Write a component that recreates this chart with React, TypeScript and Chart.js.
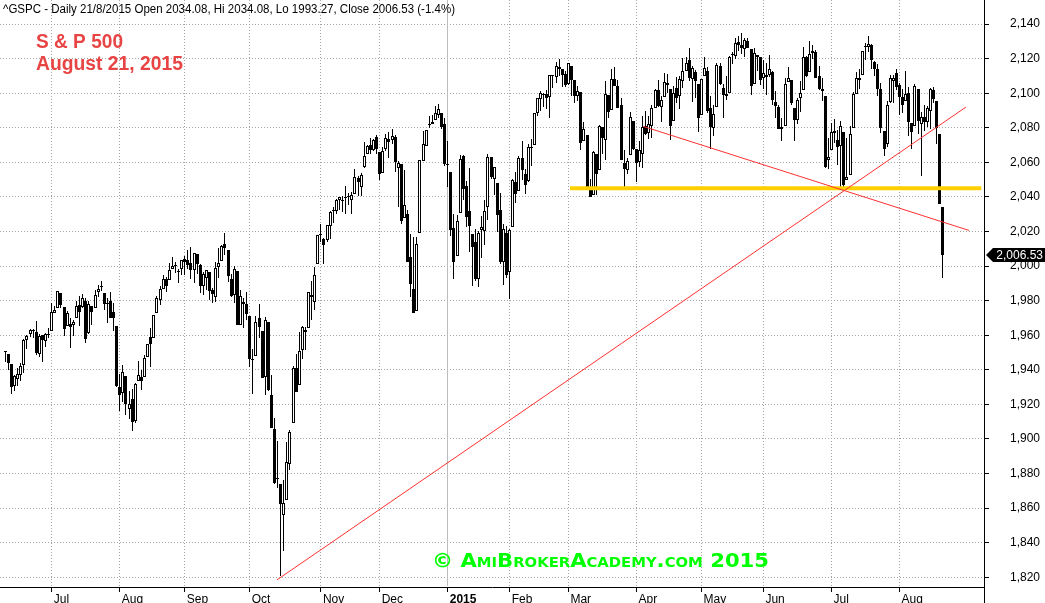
import React, { useEffect, useRef } from 'react';
import { Chart, registerables } from 'chart.js';

Chart.register(...registerables);

// Daily S&P 500 bars, 10 Jun 2014 – 21 Aug 2015 (index = trading day)
const openP = [
  1950.3,1949.4,1943.4,1930.8,1934.8,1937.2,1942.7,1957.5,1960.5,1962.9,1961.9,1949.3,1959.9,1956.6,1960.8,
  1962.3,1973.1,1975.9,1984.2,1976.4,1965.1,1966.7,1965.8,1969.9,1977.4,1976.4,1979.8,1961.5,1976.9,1975.7,1985.3,1988.1,1984.6,1978.3,1980.0,1973.2,1965.1,
  1929.8,1926.6,1936.3,1917.3,1923.0,1910.4,1933.4,1935.7,1935.6,1947.4,1958.9,1958.4,1972.7,1980.5,1986.8,1992.6,1991.7,1998.6,2000.5,1997.4,1998.5,
  2004.1,2003.6,2001.7,1998.0,2007.2,2000.7,1988.4,1992.9,1996.7,1986.0,1981.9,1999.3,2003.1,2012.7,2009.1,1992.8,1983.3,1997.3,1966.2,1979.0,1978.2,
  1971.4,1945.8,1948.1,1970.0,1962.4,1935.6,1967.7,1925.6,1905.7,1877.1,1874.2,1855.9,1864.9,1885.6,1909.4,1941.3,1931.0,1951.6,1963.0,1964.1,1983.3,1979.5,2001.2,
  2018.2,2015.8,2015.3,2023.3,2032.0,2032.0,2038.2,2037.8,2039.2,2039.7,2038.3,2041.5,2051.2,2045.9,2057.5,2065.1,2070.1,2067.4,2074.8,
  2065.8,2053.8,2067.5,2073.6,2072.8,2074.8,2056.6,2058.9,2027.9,2030.4,2005.0,1986.7,1973.8,2019.0,2061.0,2069.3,2081.5,2083.3,2084.3,2087.6,2088.5,2082.1,
  2058.9,2054.4,2022.2,2005.6,2030.6,2063.5,2046.1,2031.6,2018.4,2013.8,1992.3,2020.8,2020.2,2034.3,2063.0,2050.4,2047.9,2032.3,2002.5,2019.4,
  1996.7,2022.7,2048.9,2043.5,2062.3,2053.5,2049.4,2068.6,2070.0,2088.8,2096.5,2099.2,2099.3,2097.7,2109.8,2109.1,2115.3,2113.9,2110.9,
  2105.2,2115.8,2107.7,2098.5,2100.9,2072.3,2076.1,2044.7,2041.1,2064.6,2055.4,2080.6,2072.8,2098.7,2090.3,2108.0,2103.9,2093.1,2059.9,2055.8,2064.1,2084.1,
  2067.6,2060.0,2064.9,2080.8,2076.9,2081.3,2091.5,2102.0,2092.3,2097.8,2106.0,2102.6,2084.1,2102.8,2098.3,2107.2,2112.8,2119.3,2108.4,2112.5,2105.5,
  2087.4,2110.2,2112.6,2091.3,2080.0,2092.1,2115.6,2102.9,2099.6,2100.4,2122.1,2121.3,2129.5,2127.8,2125.6,2130.4,2125.3,2105.1,2122.3,2120.7,
  2108.6,2110.4,2110.6,2112.4,2095.1,2092.3,2079.1,2081.1,2106.2,2107.4,2091.3,2084.3,2097.4,2101.6,2121.1,2112.5,2123.2,2123.7,2110.0,2102.6,2098.6,2061.2,
  2067.0,2078.0,2073.0,2069.5,2077.7,2049.7,2052.7,2080.0,2099.7,2109.0,2110.6,2126.8,2126.9,2127.6,2118.2,2114.2,2102.2,2078.2,2070.8,2094.7,2106.8,2111.6,
  2104.5,2097.7,2095.3,2100.1,2082.6,2081.0,2102.7,2082.0,2086.2,2083.2,2089.7,2102.0,2095.7,2076.6,2034.08,
];
const highP = [
  1950.9,1949.4,1943.4,1937.3,1941.2,1943.7,1957.7,1959.9,1963.9,1963.7,1968.2,1960.8,1959.9,1961.5,1964.2,
  1978.6,1976.7,1985.6,1984.2,1976.4,1974.2,1969.8,1968.7,1979.9,1982.5,1983.9,1981.8,1979.9,1976.9,1986.2,1989.2,1991.4,1984.6,1981.5,1984.9,1978.9,1965.1,
  1937.4,1942.9,1936.3,1927.9,1928.9,1932.4,1944.9,1939.7,1948.4,1955.2,1964.0,1972.0,1982.6,1988.6,1994.8,1993.5,2001.9,2005.0,2002.1,1998.6,2003.4,
  2006.1,2009.3,2011.2,2007.7,2007.2,2001.0,1996.7,1997.7,1996.7,1987.2,2002.3,2010.7,2012.3,2019.3,2009.1,1995.4,1999.8,1997.3,1986.4,1981.3,1985.2,
  1971.4,1952.3,1971.2,1977.8,1962.4,1970.4,1967.7,1936.9,1912.1,1898.7,1874.2,1876.0,1898.2,1905.0,1942.5,1949.3,1962.0,1965.3,1964.6,1985.1,1991.4,1999.4,2018.2,
  2024.5,2016.0,2023.8,2031.6,2034.3,2038.7,2039.7,2040.3,2046.2,2042.2,2043.1,2056.1,2052.1,2053.8,2071.5,2070.2,2074.2,2073.3,2075.8,
  2065.8,2068.8,2076.3,2077.3,2079.5,2075.8,2060.6,2058.9,2055.5,2032.3,2018.7,2016.9,2016.8,2061.2,2077.9,2078.8,2086.7,2087.6,2092.7,2093.6,2088.5,2085.7,
  2072.4,2054.4,2030.3,2029.6,2064.1,2064.4,2049.3,2056.9,2018.4,2021.4,2020.5,2028.9,2038.3,2064.6,2063.0,2057.6,2047.9,2042.5,2024.6,2023.3,
  2021.7,2050.3,2054.7,2063.6,2072.4,2056.2,2070.9,2073.5,2088.5,2097.0,2101.3,2100.2,2102.1,2110.6,2110.1,2117.9,2119.6,2113.9,2112.7,
  2117.5,2115.8,2107.7,2104.3,2100.9,2083.5,2076.1,2050.1,2066.4,2064.6,2081.4,2080.6,2106.9,2098.7,2113.9,2114.9,2107.6,2097.4,2067.2,2062.8,2089.0,2084.1,
  2067.6,2072.2,2087.0,2089.8,2086.7,2093.3,2102.6,2107.7,2098.6,2111.9,2111.3,2102.6,2103.9,2109.6,2110.0,2120.5,2120.9,2125.9,2116.0,2113.7,2105.5,
  2108.4,2121.0,2115.2,2098.4,2092.9,2117.7,2117.7,2105.1,2110.2,2121.5,2123.9,2131.8,2133.0,2134.7,2131.8,2132.2,2125.3,2126.2,2122.3,2120.7,
  2119.2,2117.6,2121.9,2112.9,2101.0,2093.0,2085.6,2108.5,2115.0,2107.4,2091.3,2097.4,2106.8,2126.7,2121.6,2129.9,2128.0,2125.1,2116.0,2108.9,2098.6,2074.3,
  2082.8,2085.1,2078.6,2083.7,2077.7,2074.3,2081.3,2100.7,2112.0,2114.1,2124.4,2128.9,2132.8,2128.4,2118.5,2116.9,2106.0,2078.2,2095.6,2110.6,2110.5,2114.2,
  2105.7,2102.5,2112.7,2103.3,2082.6,2105.4,2102.7,2089.1,2092.9,2092.5,2102.9,2103.5,2095.7,2076.6,2034.08,
];
const lowP = [
  1944.6,1940.1,1925.8,1927.7,1930.9,1933.6,1937.9,1952.3,1959.2,1958.2,1948.3,1947.5,1944.7,1953.0,1958.2,
  1962.3,1972.6,1975.9,1975.7,1959.5,1965.1,1952.9,1959.6,1969.9,1965.3,1975.7,1955.6,1960.8,1965.8,1975.7,1982.4,1985.8,1974.4,1967.3,1969.9,1962.4,1930.0,
  1916.4,1921.2,1913.8,1911.5,1904.8,1909.0,1933.4,1928.3,1935.6,1947.4,1941.5,1958.4,1972.7,1977.7,1986.8,1984.8,1991.7,1998.6,1996.2,1990.5,1994.7,
  1994.9,1998.1,1992.5,1990.1,1995.6,1984.6,1983.0,1985.9,1980.3,1978.5,1979.1,1993.3,2003.1,2006.6,1991.0,1982.4,1978.6,1965.8,1966.2,1964.0,1969.0,
  1941.7,1926.0,1948.1,1958.4,1935.1,1925.3,1927.6,1906.1,1874.1,1871.8,1820.7,1835.0,1864.9,1882.3,1909.4,1927.0,1931.0,1946.3,1951.4,1964.1,1969.0,1974.8,2001.2,
  2013.7,2001.0,2014.0,2015.9,2025.1,2030.2,2032.3,2031.3,2030.4,2035.2,2030.2,2041.5,2040.4,2040.5,2056.8,2065.1,2064.8,2066.4,2065.1,
  2049.6,2053.8,2066.6,2062.3,2070.8,2054.3,2034.2,2024.3,2027.9,2002.3,1982.3,1972.6,1973.8,2019.0,2061.0,2069.3,2079.8,2081.9,2084.3,2085.8,2079.5,2057.9,
  2046.0,2017.3,1992.4,2005.6,2030.6,2038.3,2022.6,2008.3,1988.4,1991.5,1988.1,2004.5,2012.0,2026.4,2050.5,2041.0,2019.9,2001.5,1989.2,1993.4,
  1980.9,2022.7,2036.7,2043.5,2050.0,2041.9,2048.6,2058.0,2070.0,2086.7,2089.8,2092.2,2090.8,2085.4,2103.0,2105.9,2109.9,2103.8,2103.8,
  2104.5,2098.3,2094.5,2095.2,2067.3,2072.2,2044.2,2039.7,2041.1,2041.2,2055.4,2065.1,2061.2,2085.6,2090.3,2104.4,2091.5,2061.1,2045.5,2053.0,2064.1,2067.0,
  2048.4,2057.3,2056.5,2076.1,2073.3,2074.3,2091.5,2092.3,2083.2,2097.8,2100.0,2073.0,2084.1,2094.4,2091.1,2103.2,2112.8,2107.0,2094.9,2097.4,2077.6,
  2087.4,2110.2,2088.5,2067.9,2075.0,2092.1,2104.6,2085.4,2096.0,2100.4,2116.8,2120.0,2124.5,2122.6,2120.9,2126.1,2099.2,2105.1,2112.8,2104.9,
  2102.5,2099.1,2109.6,2093.2,2085.7,2079.1,2072.1,2081.1,2106.2,2093.1,2072.5,2082.1,2088.9,2101.6,2109.5,2112.5,2119.9,2108.6,2101.8,2095.4,2056.6,2056.3,
  2067.0,2071.0,2058.4,2044.0,2044.5,2049.7,2052.7,2080.0,2099.7,2102.5,2110.6,2119.4,2123.7,2114.2,2110.0,2098.6,2077.1,2063.5,2069.1,2094.1,2094.1,2102.1,
  2087.3,2088.6,2095.3,2075.5,2067.9,2081.0,2076.5,2052.1,2078.3,2080.6,2079.3,2094.1,2070.5,2035.7,1993.27,
];
const closeP = [
  1950.8,1943.9,1930.1,1936.2,1937.8,1942.0,1957.0,1959.5,1962.9,1962.6,1950.0,1959.5,1957.2,1961.0,1960.2,
  1973.3,1974.6,1985.4,1977.7,1963.7,1972.8,1964.7,1967.6,1977.1,1973.3,1981.6,1958.1,1978.2,1973.6,1983.5,1987.0,1988.0,1978.3,1978.9,1970.0,1970.1,1930.7,
  1925.2,1939.0,1920.2,1920.2,1909.6,1931.6,1936.9,1933.8,1946.7,1955.2,1955.1,1971.7,1981.6,1986.5,1992.4,1988.4,1997.9,2000.0,2000.1,1996.7,2003.4,
  2002.3,2000.7,1997.7,2007.7,2001.5,1988.4,1995.7,1997.5,1985.5,1984.1,1999.0,2001.6,2011.4,2010.4,1994.3,1982.8,1998.3,1966.0,1982.9,1977.8,1972.3,
  1946.2,1946.2,1967.9,1964.8,1935.1,1968.9,1928.2,1906.1,1874.7,1877.7,1862.5,1862.8,1886.8,1904.0,1941.3,1927.1,1950.8,1964.6,1961.6,1985.1,1982.3,1994.7,2018.1,
  2017.8,2012.1,2023.6,2031.2,2031.9,2038.3,2039.7,2038.3,2039.3,2039.8,2041.3,2051.8,2048.7,2052.8,2063.5,2069.4,2067.0,2072.8,2067.6,
  2053.4,2066.6,2074.3,2071.9,2075.4,2060.3,2059.8,2026.1,2035.3,2002.3,1989.6,1972.7,2012.9,2061.2,2070.7,2078.5,2082.2,2081.9,2088.8,2090.6,2080.4,2058.9,
  2058.2,2020.6,2002.6,2025.9,2062.1,2044.8,2028.3,2023.0,2011.3,1992.7,2019.4,2022.6,2032.1,2063.2,2051.8,2057.1,2029.6,2002.2,2021.3,1995.0,
  2020.9,2050.0,2041.5,2062.5,2055.5,2046.7,2068.6,2068.5,2088.5,2097.0,2100.3,2099.7,2097.5,2110.3,2109.7,2115.5,2113.9,2110.7,2104.5,
  2117.4,2107.8,2098.5,2101.0,2071.3,2079.4,2044.2,2040.2,2066.0,2053.4,2081.2,2074.3,2099.5,2089.3,2108.1,2104.4,2091.5,2061.1,2056.2,2061.0,2086.2,2067.9,
  2059.7,2067.0,2080.6,2076.3,2081.9,2091.2,2102.1,2092.4,2095.8,2106.6,2105.0,2081.2,2100.4,2097.3,2108.0,2112.9,2117.7,2108.9,2114.8,2106.9,2085.5,
  2108.3,2114.5,2089.5,2080.2,2088.0,2116.1,2105.3,2099.1,2098.5,2121.1,2122.7,2129.2,2127.8,2125.9,2130.8,2126.1,2104.2,2123.5,2120.8,2107.4,
  2111.7,2109.6,2114.1,2095.8,2092.8,2079.3,2080.2,2105.2,2108.9,2094.1,2084.4,2096.3,2100.4,2121.2,2110.0,2122.9,2124.2,2108.6,2102.3,2101.5,2057.6,2063.1,
  2077.4,2076.8,2068.8,2081.3,2046.7,2051.3,2076.6,2099.6,2109.0,2107.4,2124.3,2126.6,2128.3,2119.2,2114.2,2102.2,2079.7,2067.6,2093.3,2108.6,2108.6,2103.8,
  2098.0,2093.3,2099.8,2083.6,2077.6,2104.2,2084.1,2086.1,2083.4,2091.5,2102.4,2096.9,2079.6,2035.7,2006.53,
];

// First trading day of each month (bar index) and its axis label
const monthStarts = [15, 37, 58, 79, 102, 121, 143, 163, 182, 204, 225, 245, 267, 289];
const monthLabels = ['Jul', 'Aug', 'Sep', 'Oct', 'Nov', 'Dec', '2015', 'Feb', 'Mar', 'Apr', 'May', 'Jun', 'Jul', 'Aug'];

const yTicks = [1820, 1840, 1860, 1880, 1900, 1920, 1940, 1960, 1980, 2000, 2020, 2040, 2060, 2080, 2100, 2120, 2140];

// Hand-drawn study lines (bar index, price)
const risingTrend = [{ x: 87.8, y: 1818.5 }, { x: 310.5, y: 2092.0 }];
const fallingTrend = [{ x: 206.2, y: 2080.8 }, { x: 311.5, y: 2020.6 }];
const supportLevel = [{ x: 182.5, y: 2045 }, { x: 315.4, y: 2045 }];

const ticker = '^GSPC';
const lastDate = '21/8/2015';
const titleLines = ['S & P 500', 'August 21, 2015'];
const watermark = '\u00A9 AmiBrokerAcademy.com 2015';

const FONT = "'Liberation Sans', Arial, sans-serif";
Chart.defaults.font.family = FONT;
Chart.defaults.font.size = 12;

function fitText(ctx: CanvasRenderingContext2D, text: string, x: number, y: number, targetWidth: number) {
  const w = ctx.measureText(text).width;
  ctx.save();
  ctx.translate(x, y);
  ctx.scale(targetWidth / w, 1);
  ctx.fillText(text, 0, 0);
  ctx.restore();
}

const decorations = {
  id: 'decorations',
  beforeDatasetsDraw(chart: any) {
    const { ctx, chartArea: a, scales } = chart;
    const x = scales.x;
    const y = scales.y;

    // snap candle elements to the pixel grid for crisp rendering
    chart.data.datasets.forEach((ds: any, di: number) => {
      if (ds.type !== 'bar') return;
      const meta = chart.getDatasetMeta(di);
      meta.data.forEach((el: any) => {
        el.x = Math.floor(el.x) + 0.5;
        let top = Math.round(Math.min(el.y, el.base));
        let bot = Math.round(Math.max(el.y, el.base));
        if (bot - top < 1) bot = top + 1;
        el.y = top;
        el.base = bot;
      });
    });

    ctx.save();
    ctx.lineWidth = 1;
    for (const v of yTicks) {
      const py = Math.floor(y.getPixelForValue(v)) + 0.5;
      ctx.setLineDash([1, 2]);
      ctx.strokeStyle = '#a4a4a4';
      ctx.beginPath();
      ctx.moveTo(a.left, py);
      ctx.lineTo(a.right - 1, py);
      ctx.stroke();
    }
    monthStarts.forEach((m, k) => {
      const px = Math.floor(x.getPixelForValue(m)) + 0.5;
      if (monthLabels[k] === '2015') {
        ctx.setLineDash([]);
        ctx.strokeStyle = '#bdbdbd';
      } else {
        ctx.setLineDash([1, 2]);
        ctx.strokeStyle = '#a4a4a4';
      }
      ctx.beginPath();
      ctx.moveTo(px, a.top);
      ctx.lineTo(px, a.bottom - 1);
      ctx.stroke();
    });
    ctx.restore();
  },
  afterDraw(chart: any) {
    const { ctx, chartArea: a, scales, width, height } = chart;
    const y = scales.y;
    const n = closeP.length;
    ctx.save();
    // y axis line continues below the x axis
    ctx.strokeStyle = '#000';
    ctx.lineWidth = 1;
    ctx.beginPath();
    ctx.moveTo(Math.round(a.right) + 0.5, a.bottom);
    ctx.lineTo(Math.round(a.right) + 0.5, height);
    ctx.stroke();

    // header
    const o = openP[n - 1], h = highP[n - 1], l = lowP[n - 1], c = closeP[n - 1];
    const pct = (c / closeP[n - 2] - 1) * 100;
    const header = `${ticker} - Daily ${lastDate} Open ${o.toFixed(2)}, Hi ${h.toFixed(2)}, Lo ${l.toFixed(2)}, Close ${c.toFixed(2)} (${pct.toFixed(1)}%)`;
    ctx.fillStyle = '#000';
    ctx.font = `12px ${FONT}`;
    ctx.textAlign = 'left';
    ctx.textBaseline = 'alphabetic';
    fitText(ctx, header, 3, 13, 452);

    // red title
    ctx.fillStyle = '#e84444';
    ctx.font = `bold 20px ${FONT}`;
    fitText(ctx, titleLines[0], 36, 48, 87);
    fitText(ctx, titleLines[1], 36, 70, 147);

    // watermark
    ctx.font = `small-caps bold 20px 'DejaVu Sans', ${FONT}`;
    try { (ctx as any).fontVariantCaps = 'small-caps'; } catch (e) { /* ignore */ }
    ctx.fillStyle = '#00ff00';
    fitText(ctx, watermark, 432, 567, 337);
    try { (ctx as any).fontVariantCaps = 'normal'; } catch (e) { /* ignore */ }

    // last price marker
    const py = Math.round(y.getPixelForValue(c));
    const ax = Math.round(a.right) + 2;
    ctx.fillStyle = '#000';
    ctx.beginPath();
    ctx.moveTo(ax, py);
    ctx.lineTo(ax + 7, py - 7);
    ctx.lineTo(width, py - 7);
    ctx.lineTo(width, py + 7);
    ctx.lineTo(ax + 7, py + 7);
    ctx.closePath();
    ctx.fill();
    ctx.fillStyle = '#fff';
    ctx.font = `12px ${FONT}`;
    ctx.textAlign = 'right';
    ctx.textBaseline = 'middle';
    ctx.fillText(c.toLocaleString('en-US', { minimumFractionDigits: 2, maximumFractionDigits: 2 }), width - 2, py + 1);
    ctx.restore();
  },
};

export default function App() {
  const ref = useRef<HTMLCanvasElement>(null);
  useEffect(() => {
    const canvas = ref.current;
    if (!canvas) return;
    const idx = closeP.map((_, i) => i);
    const chart = new Chart(canvas, {
      type: 'bar',
      data: {
        datasets: [
          { type: 'line', label: 'Rising trend', data: risingTrend, borderColor: '#ff3030', borderWidth: 1, pointRadius: 0, order: 0 } as any,
          { type: 'line', label: 'Falling trend', data: fallingTrend, borderColor: '#ff3030', borderWidth: 1, pointRadius: 0, order: 0 } as any,
          { type: 'line', label: 'Support', data: supportLevel, borderColor: '#ffd000', borderWidth: 4, borderCapStyle: 'butt', pointRadius: 0, order: 1 } as any,
          {
            type: 'bar', label: 'Body',
            data: idx.map((i) => ({ x: i, y: [openP[i], closeP[i]] })),
            backgroundColor: (c: any) => (c.dataIndex !== undefined && closeP[c.dataIndex] < openP[c.dataIndex] ? '#000' : '#fff'),
            borderColor: '#000', borderWidth: 1, borderSkipped: false, barThickness: 3, minBarLength: 1,
            inflateAmount: 0, grouped: false, order: 2,
          } as any,
          {
            type: 'bar', label: 'Wick',
            data: idx.map((i) => ({ x: i, y: [lowP[i], highP[i]] })),
            backgroundColor: '#000', borderWidth: 0, barThickness: 1, inflateAmount: 0, grouped: false, order: 3,
          } as any,
        ],
      },
      options: {
        responsive: false,
        maintainAspectRatio: false,
        animation: false,
        devicePixelRatio: 1,
        events: [],
        layout: { padding: 0 },
        plugins: { legend: { display: false }, tooltip: { enabled: false }, title: { display: false } },
        scales: {
          x: {
            type: 'linear', min: -1.71, max: 316.3, offset: false,
            afterBuildTicks: (s: any) => { s.ticks = monthStarts.map((v) => ({ value: v })); },
            afterFit: (s: any) => { s.height = 16; s.paddingLeft = 0; s.paddingRight = 0; },
            grid: { drawOnChartArea: false, drawTicks: true, tickLength: 5, color: '#000', offset: false },
            border: { display: true, color: '#000', width: 1 },
            ticks: {
              autoSkip: false, maxRotation: 0, minRotation: 0, align: 'start', padding: 0, labelOffset: 2, color: '#000',
              font: (c: any) => ({ size: 12, family: FONT, weight: monthLabels[c.index] === '2015' ? 'bold' : 'normal' }),
              callback: (v: any) => monthLabels[monthStarts.indexOf(Number(v))] ?? '',
            },
          },
          y: {
            type: 'linear', position: 'right', min: 1814.4, max: 2153.9,
            afterBuildTicks: (s: any) => { s.ticks = yTicks.map((v) => ({ value: v })); },
            afterFit: (s: any) => { s.width = 61; s.paddingTop = 0; s.paddingBottom = 0; },
            grid: { drawOnChartArea: false, drawTicks: true, tickLength: 5, color: '#000' },
            border: { display: true, color: '#000', width: 1 },
            ticks: { color: '#000', padding: 21, font: { size: 12, family: FONT }, callback: (v: any) => Number(v).toLocaleString('en-US') },
          },
        },
      } as any,
      plugins: [decorations],
    });
    return () => chart.destroy();
  }, []);
  return (
    <div style={{ position: 'fixed', left: 0, top: 0, width: 1045, height: 603, background: '#fff' }}>
      <canvas ref={ref} width={1045} height={603} style={{ display: 'block', width: 1045, height: 603 }} />
    </div>
  );
}
